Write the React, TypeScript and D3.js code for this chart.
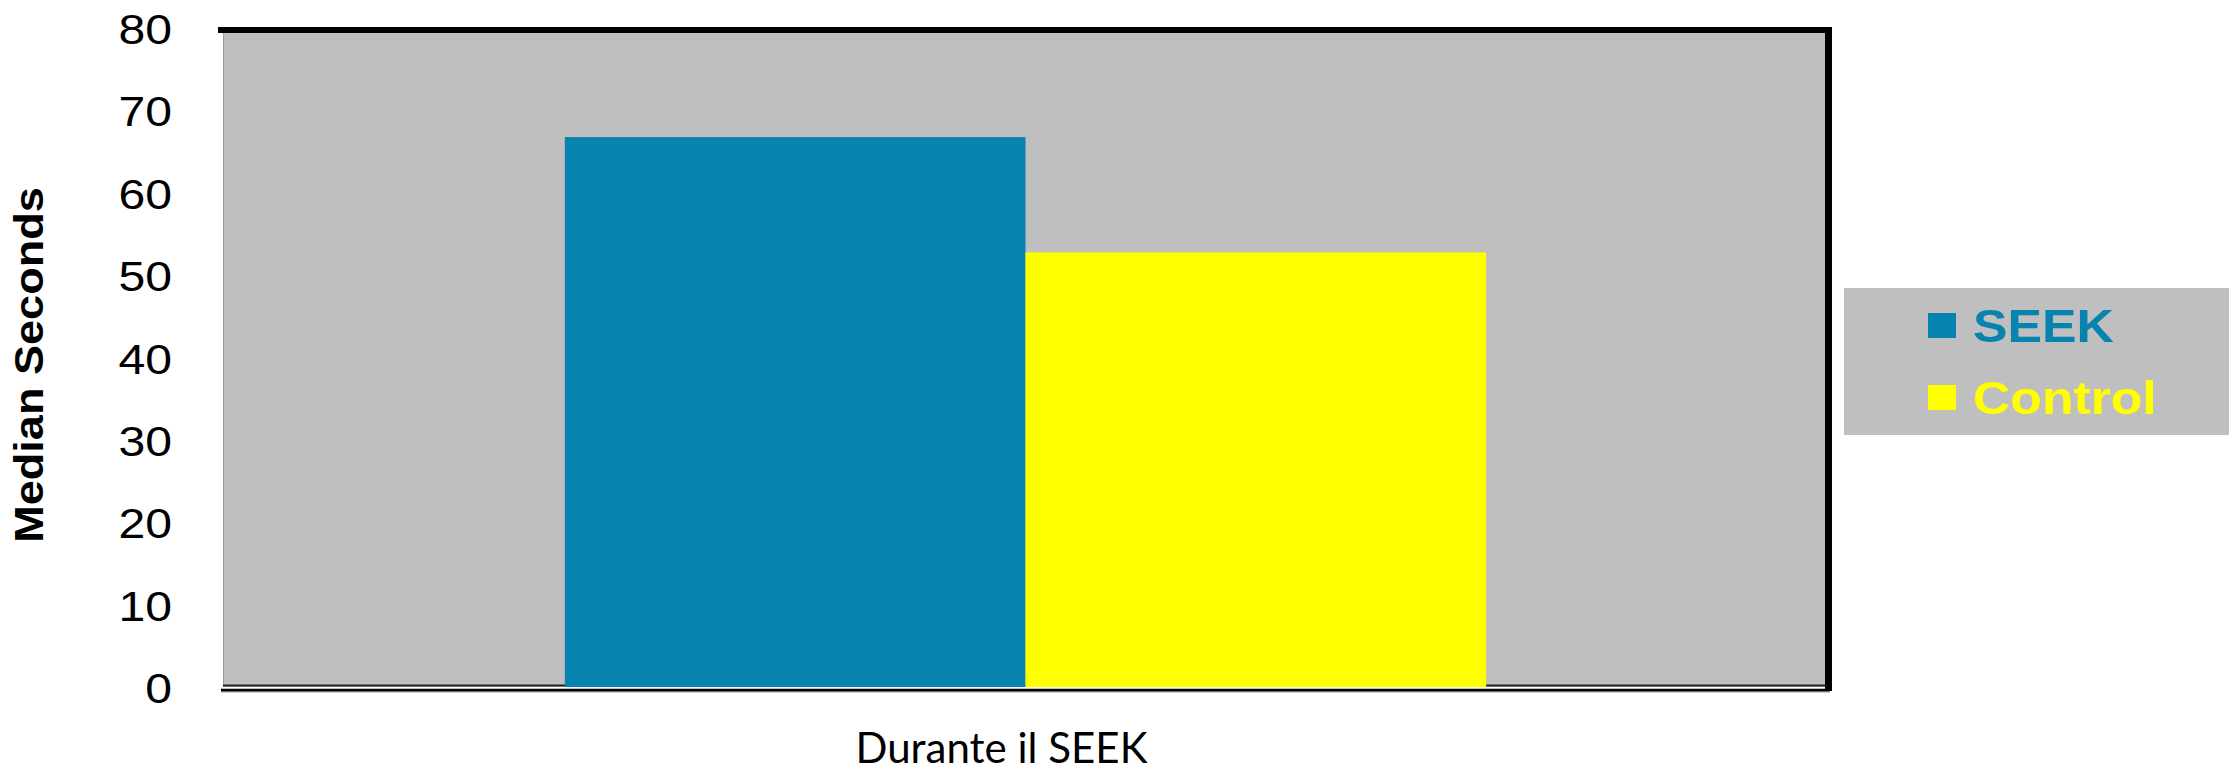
import React from "react";
import * as d3 from "d3";

const categories = ["Durante il SEEK"];
const seriesNames = ["SEEK", "Control"];
const seekValues = [67];
const controlValues = [53];
const yTicks = [0, 10, 20, 30, 40, 50, 60, 70, 80];
const seriesColors = ["#0683AE", "#FFFF00"];
const yTitle = "Median Seconds";

const W = 2232;
const H = 769;
const plotLeft = 223;
const plotRight = 1828;
const plotTop = 30;
const plotBottom = 689;
const FONT = "'Liberation Sans', Arial, Helvetica, sans-serif";
const GRAY = "#BFBFBF";

export default function App() {
  const y = d3.scaleLinear().domain([0, 80]).range([plotBottom, plotTop]);
  const x0 = d3
    .scaleBand<string>()
    .domain(categories)
    .range([plotLeft, plotRight])
    .paddingInner(0)
    .paddingOuter(0.371);
  const x1 = d3
    .scaleBand<string>()
    .domain(seriesNames)
    .range([0, x0.bandwidth()])
    .padding(0);

  const rows = categories.map((c, i) => ({
    cat: c,
    vals: [seekValues[i], controlValues[i]],
  }));

  const legendX = 1844;
  const legendY = 288;
  const legendW = 385;
  const legendH = 147;

  return (
    <svg
      width={W}
      height={H}
      style={{ position: "absolute", left: 0, top: 0, display: "block", background: "#fff" }}
    >
      {/* plot background */}
      <rect x={plotLeft} y={plotTop} width={plotRight - plotLeft} height={687 - plotTop} fill={GRAY} />
      <line x1={plotLeft + 0.5} x2={plotLeft + 0.5} y1={plotTop} y2={687} stroke="#9a9a9a" strokeWidth={1} />
      {/* thin dark line at base of gray */}
      <line x1={plotLeft} x2={plotRight} y1={685.5} y2={685.5} stroke="#222" strokeWidth={2} />

      {/* bars */}
      {rows.map((r) =>
        r.vals.map((v, j) => {
          const bx = (x0(r.cat) as number) + (x1(seriesNames[j]) as number);
          return (
            <rect
              key={r.cat + j}
              x={bx}
              y={y(v)}
              width={x1.bandwidth()}
              height={687 - y(v)}
              fill={seriesColors[j]}
            />
          );
        })
      )}

      {/* white gap and bottom axis line */}
      <line x1={plotLeft} x2={plotRight} y1={688} y2={688} stroke="#fff" strokeWidth={2} />
      <line x1={221} x2={1830} y1={690.2} y2={690.2} stroke="#000" strokeWidth={3} />
      <line x1={221} x2={1830} y1={692} y2={692} stroke="#999" strokeWidth={1} />

      {/* top and right frame */}
      <line x1={218} x2={1832} y1={30} y2={30} stroke="#000" strokeWidth={6} />
      <line x1={1828.5} x2={1828.5} y1={27} y2={691} stroke="#000" strokeWidth={7} />

      {/* y tick labels */}
      {yTicks.map((t) => (
        <text
          key={t}
          transform={`translate(172, ${y(t) + 14}) scale(1.12,1)`}
          textAnchor="end"
          fontFamily={FONT}
          fontSize={43}
          fill="#000"
        >
          {t}
        </text>
      ))}

      {/* y title */}
      <text
        transform={`translate(43, 365) rotate(-90) scale(1.1,1)`}
        textAnchor="middle"
        fontFamily={FONT}
        fontSize={41}
        fontWeight="bold"
        fill="#000"
      >
        {yTitle}
      </text>

      {/* x category label */}
      {categories.map((c) => (
        <text
          key={c}
          x={(x0(c) as number) + x0.bandwidth() / 2 - 24}
          y={763}
          textAnchor="middle"
          fontFamily="Lato, 'Open Sans', sans-serif"
          fontSize={43}
          textLength={292}
          lengthAdjust="spacingAndGlyphs"
          fill="#000"
        >
          {c}
        </text>
      ))}

      {/* legend */}
      <rect x={legendX} y={legendY} width={legendW} height={legendH} fill={GRAY} />
      {seriesNames.map((s, i) => (
        <g key={s}>
          <rect x={1928} y={313 + i * 72} width={28} height={25} fill={seriesColors[i]} />
          <text
            transform={`translate(1973, ${342 + i * 72}) scale(1.1,1)`}
            fontFamily={FONT}
            fontSize={47}
            fontWeight="bold"
            fill={seriesColors[i]}
          >
            {s}
          </text>
        </g>
      ))}
    </svg>
  );
}
